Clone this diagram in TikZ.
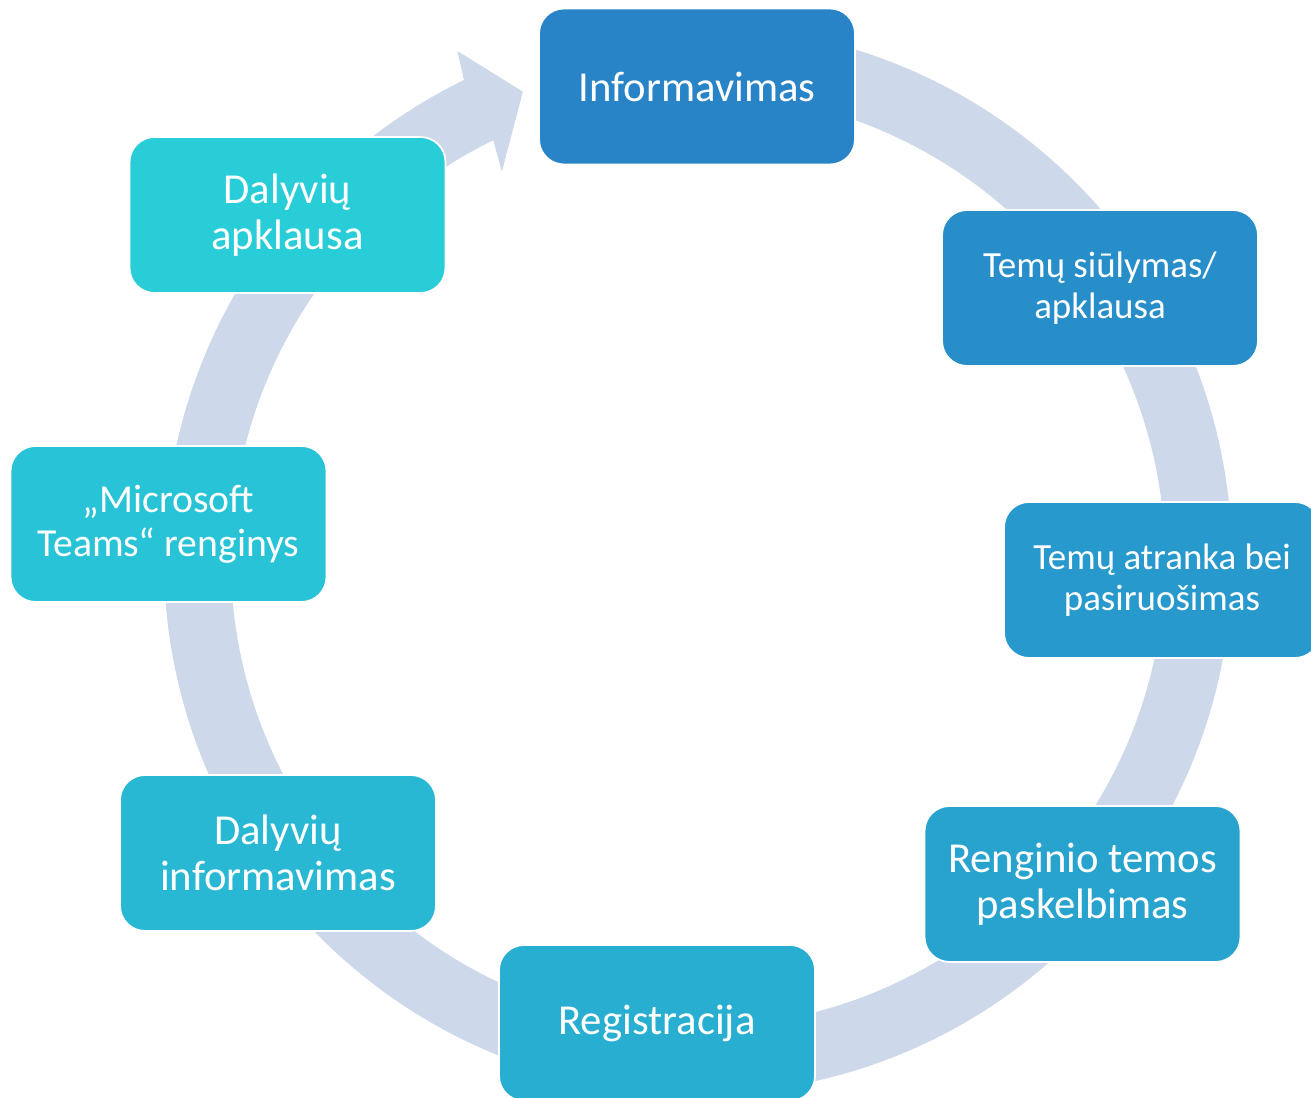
\documentclass[tikz,border=0pt]{standalone}
\usepackage{fontspec}
\setmainfont{Carlito}
\usepackage{tikz}

\definecolor{cycbeg}{HTML}{2884C7}
\definecolor{cycend}{HTML}{28CDD8}
\definecolor{ringfill}{HTML}{CDD8EA}

\tikzset{
  cyclebox/.style={rectangle, rounded corners=0.5cm, draw=white, line width=1pt,
    fill=cycend!#1!cycbeg, text=white, minimum width=6.32cm, minimum height=3.12cm,
    align=center, inner sep=0pt},
  bigtxt/.style={font=\fontsize{24.3}{26.3}\selectfont},
  midtxt/.style={font=\fontsize{21}{23.2}\selectfont},
  smalltxt/.style={font=\fontsize{22.6}{25}\selectfont}
}

\begin{document}
\begin{tikzpicture}[x=0.02cm, y=0.02cm]
  \useasboundingbox (0,0) rectangle (1311,1098);
  \coordinate (ctr) at (698,538);
  % ring behind the boxes, head pointing at the first box
  \fill[ringfill] ([shift={(90:534)}]ctr) arc[start angle=90, end angle=-244, radius=534]
    -- ([shift={(-244.7:563)}]ctr) -- ([shift={(-249.5:500)}]ctr)
    -- ([shift={(-243.2:435)}]ctr) -- ([shift={(-244:467)}]ctr)
    arc[start angle=-244, end angle=90, radius=467] -- cycle;

  \node[cyclebox=0, bigtxt] (inform) at (697,1011.5) {Informavimas};
  \node[cyclebox=14, midtxt] (siul) at (1100,810) {Temų siūlymas/\\apklausa};
  \node[cyclebox=29, midtxt] (atrank) at (1162,518) {Temų atranka bei\\pasiruošimas};
  \node[cyclebox=43, bigtxt] (paskelb) at (1082.5,214) {Renginio temos\\paskelbimas};
  \node[cyclebox=57, bigtxt] (regist) at (657,75) {Registracija};
  \node[cyclebox=71, bigtxt] (dalinf) at (278,245) {Dalyvių\\informavimas};
  \node[cyclebox=86, smalltxt] (teams) at (168.5,574) {„Microsoft\\Teams“ renginys};
  \node[cyclebox=100, bigtxt] (apklaus) at (287.5,883) {Dalyvių\\apklausa};
\end{tikzpicture}
\end{document}
